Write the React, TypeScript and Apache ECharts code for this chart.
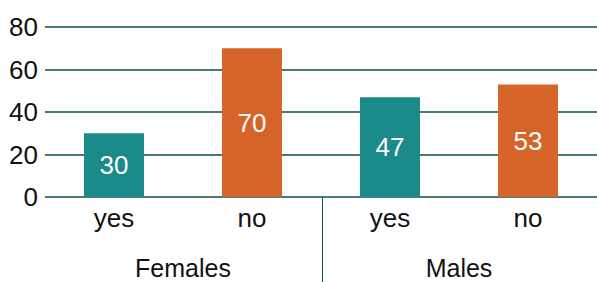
import React, { useEffect, useRef } from "react";
import * as echarts from "echarts";

const categories = ["yes", "no", "yes", "no"];
const groups = ["Females", "Males"];
const values = [30, 70, 47, 53];
const barColors = ["#1a8a8a", "#d66428", "#1a8a8a", "#d66428"];
const yTicks = { min: 0, max: 80, interval: 20 };

const FONT = "'Liberation Sans', Arial, sans-serif";
const GRID_COLOR = "#0f4c4c";
const FS = 26;

export default function App() {
  const ref = useRef<HTMLDivElement>(null);
  useEffect(() => {
    if (!ref.current) return;
    const chart = echarts.init(ref.current, undefined, { renderer: "svg" });
    chart.setOption({
      animation: false,
      grid: { left: 45, right: 0, top: 27, bottom: 85, containLabel: false },
      xAxis: [
        {
          type: "category",
          data: categories,
          axisLine: { show: false },
          axisTick: { show: false },
          axisLabel: { fontSize: FS, color: "#111", fontFamily: FONT, margin: 8 },
        },
        {
          type: "category",
          data: groups,
          position: "bottom",
          offset: 50,
          axisLine: { show: false },
          axisTick: { show: false },
          axisLabel: { fontSize: 25, color: "#111", fontFamily: FONT, margin: 8 },
        },
      ],
      yAxis: {
        type: "value",
        min: yTicks.min,
        max: yTicks.max,
        interval: yTicks.interval,
        axisLabel: { fontSize: FS, color: "#111", fontFamily: FONT, margin: 7 },
        splitLine: { lineStyle: { color: GRID_COLOR, width: 1.5 } },
        axisLine: { show: false },
        axisTick: { show: false },
      },
      series: [
        {
          type: "bar",
          xAxisIndex: 0,
          barWidth: 60,
          data: values.map((v, i) => ({ value: v, itemStyle: { color: barColors[i] } })),
          label: {
            show: true,
            position: "inside",
            color: "#fff",
            fontSize: FS,
            fontFamily: FONT,
          },
        },
      ],
    });
    const xa = chart.convertToPixel({ xAxisIndex: 0 }, 1) as number;
    const xb = chart.convertToPixel({ xAxisIndex: 0 }, 2) as number;
    const y0 = chart.convertToPixel({ yAxisIndex: 0 }, 0) as number;
    const sx = Math.round((xa + xb) / 2) + 1.5;
    chart.setOption({
      graphic: [
        {
          type: "line",
          shape: { x1: sx, y1: y0, x2: sx, y2: 282 },
          style: { stroke: GRID_COLOR, lineWidth: 1 },
        },
      ],
    });
    return () => chart.dispose();
  }, []);
  return <div ref={ref} style={{ width: 597, height: 282, position: "absolute", left: 0, top: 0 }} />;
}
